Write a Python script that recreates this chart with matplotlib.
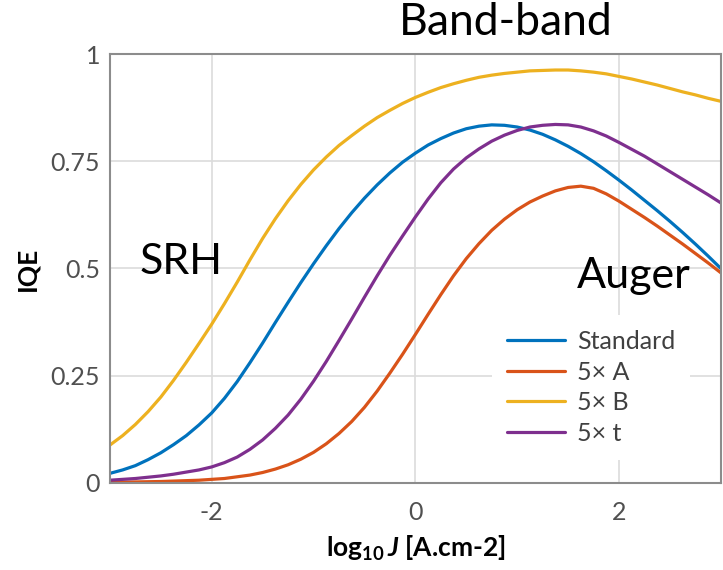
import matplotlib
matplotlib.use("Agg")
import matplotlib.pyplot as plt

# log10 J values (A/cm2), every 0.125
log_j = [-3.0, -2.875, -2.75, -2.625, -2.5, -2.375, -2.25, -2.125, -2.0, -1.875,
         -1.75, -1.625, -1.5, -1.375, -1.25, -1.125, -1.0, -0.875, -0.75, -0.625,
         -0.5, -0.375, -0.25, -0.125, 0.0, 0.125, 0.25, 0.375, 0.5, 0.625,
         0.75, 0.875, 1.0, 1.125, 1.25, 1.375, 1.5, 1.625, 1.75, 1.875,
         2.0, 2.125, 2.25, 2.375, 2.5, 2.625, 2.75, 2.875, 3.0]

iqe_standard = [0.022, 0.03, 0.04, 0.054, 0.07, 0.089, 0.11, 0.135, 0.163, 0.197,
                0.236, 0.28, 0.326, 0.374, 0.421, 0.467, 0.511, 0.553, 0.593, 0.63,
                0.664, 0.695, 0.723, 0.748, 0.769, 0.788, 0.803, 0.816, 0.826, 0.832,
                0.835, 0.834, 0.83, 0.823, 0.813, 0.8, 0.785, 0.768, 0.749, 0.728,
                0.706, 0.683, 0.659, 0.635, 0.61, 0.584, 0.557, 0.529, 0.50]
iqe_5a = [0.001, 0.0015, 0.002, 0.0025, 0.003, 0.004, 0.005, 0.006, 0.008, 0.010,
          0.014, 0.018, 0.024, 0.032, 0.042, 0.055, 0.071, 0.091, 0.115, 0.143,
          0.176, 0.214, 0.256, 0.30, 0.346, 0.393, 0.439, 0.483, 0.523, 0.558,
          0.589, 0.615, 0.637, 0.655, 0.669, 0.681, 0.689, 0.692, 0.687, 0.674,
          0.657, 0.638, 0.619, 0.599, 0.578, 0.557, 0.535, 0.513, 0.49]
iqe_5b = [0.088, 0.11, 0.136, 0.166, 0.2, 0.239, 0.281, 0.325, 0.37, 0.418,
          0.468, 0.52, 0.57, 0.616, 0.658, 0.696, 0.73, 0.76, 0.787, 0.81,
          0.832, 0.852, 0.869, 0.885, 0.899, 0.911, 0.922, 0.931, 0.939, 0.946,
          0.951, 0.955, 0.958, 0.961, 0.962, 0.963, 0.963, 0.961, 0.958, 0.954,
          0.948, 0.942, 0.935, 0.928, 0.92, 0.912, 0.905, 0.897, 0.89]
iqe_5t = [0.006, 0.008, 0.01, 0.013, 0.016, 0.02, 0.025, 0.03, 0.037, 0.047,
          0.06, 0.078, 0.10, 0.127, 0.158, 0.195, 0.237, 0.283, 0.332, 0.382,
          0.433, 0.483, 0.531, 0.576, 0.62, 0.662, 0.70, 0.732, 0.758, 0.779,
          0.797, 0.811, 0.822, 0.83, 0.834, 0.836, 0.835, 0.83, 0.821, 0.809,
          0.794, 0.778, 0.762, 0.744, 0.726, 0.708, 0.69, 0.672, 0.653]

series = [
    ("Standard", iqe_standard, "#0072BD"),
    ("5× A", iqe_5a, "#D95319"),
    ("5× B", iqe_5b, "#EDB120"),
    ("5× t", iqe_5t, "#7E2F8E"),
]

plt.rcParams["font.family"] = ["Lato", "DejaVu Sans"]
plt.rcParams["mathtext.fontset"] = "custom"
plt.rcParams["mathtext.bf"] = "Lato:bold"
plt.rcParams["mathtext.it"] = "Lato:italic:bold"
plt.rcParams["mathtext.rm"] = "Lato:bold"

fig = plt.figure(figsize=(7.23, 5.70), dpi=100)
ax = fig.add_axes([0.152, 0.153, 0.845, 0.752])

for name, vals, col in series:
    ax.plot(log_j, vals, color=col, lw=2.3, label=name, solid_capstyle="round")

ax.set_xlim(-3, 3)
ax.set_ylim(0, 1)
ax.set_xticks([-2, 0, 2])
ax.set_xticklabels(["-2", "0", "2"])
ax.set_yticks([0, 0.25, 0.5, 0.75, 1])
ax.set_yticklabels(["0", "0.25", "0.5", "0.75", "1"])
ax.tick_params(length=0, labelsize=18, labelcolor="#505050")
ax.tick_params(axis="x", pad=13)
ax.tick_params(axis="y", pad=7)
ax.grid(True, color="#dcdcdc", lw=1.2)
ax.set_axisbelow(True)
for s in ax.spines.values():
    s.set_color("#8c8c8c")
    s.set_linewidth(1.5)

ax.set_ylabel("IQE", fontsize=19, fontweight="bold", labelpad=8)
ax.set_xlabel(r"$\mathbf{log}_{\mathbf{10}}\,\mathit{J}$ [A.cm-2]", fontsize=19,
              fontweight="bold", labelpad=7)

leg = ax.legend(loc="lower right", bbox_to_anchor=(0.95, 0.054), borderaxespad=0,
                frameon=True, fontsize=18, handlelength=2.3, labelspacing=0.3,
                borderpad=0.6, handletextpad=0.5)
leg.get_frame().set_edgecolor("none")
leg.get_frame().set_facecolor("white")
leg.get_frame().set_alpha(1)
for t in leg.get_texts():
    t.set_color("#404040")

fig.text(0.70, 0.96, "Band-band", fontsize=32, ha="center", va="center")
fig.text(0.25, 0.54, "SRH", fontsize=31, ha="center", va="center")
fig.text(0.877, 0.515, "Auger", fontsize=31, ha="center", va="center")

fig.savefig("out.png", dpi=100)
